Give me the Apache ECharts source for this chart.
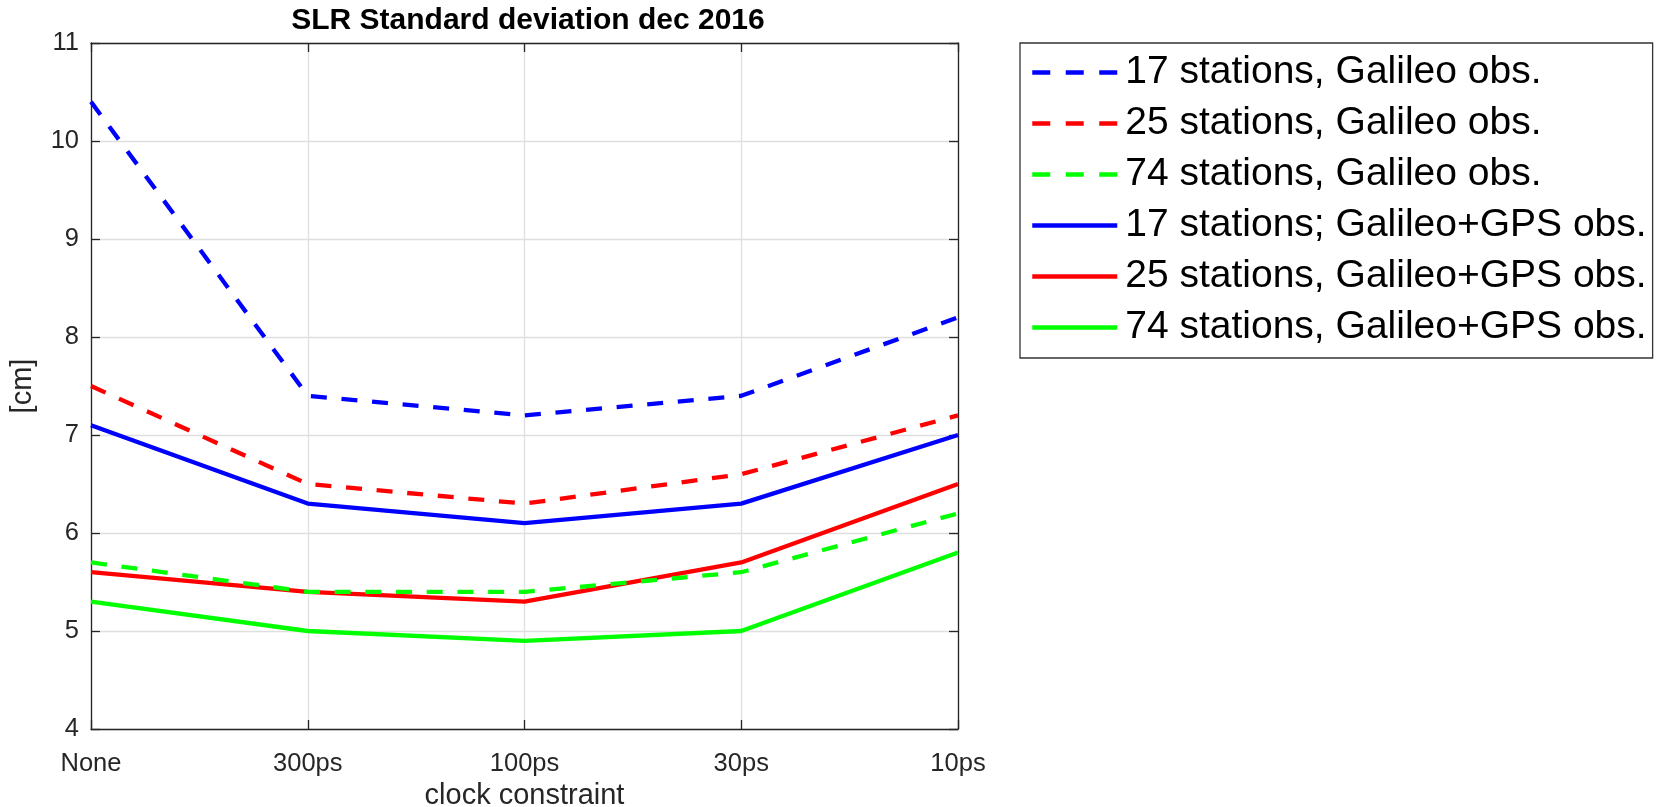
<!DOCTYPE html>
<html>
<head>
<meta charset="utf-8">
<script src="https://cdn.jsdelivr.net/npm/echarts@6/dist/echarts.min.js"></script>
<style>
html,body{margin:0;padding:0;background:#fff;}
#chart{width:1662px;height:807px;}
</style>
</head>
<body>
<div id="chart"></div>
<script>
const categories = ['None', '300ps', '100ps', '30ps', '10ps'];
const gal17 = [10.4, 7.4, 7.2, 7.4, 8.2];
const gal25 = [7.5, 6.5, 6.3, 6.6, 7.2];
const gal74 = [5.7, 5.4, 5.4, 5.6, 6.2];
const gps17 = [7.1, 6.3, 6.1, 6.3, 7.0];
const gps25 = [5.6, 5.4, 5.3, 5.7, 6.5];
const gps74 = [5.3, 5.0, 4.9, 5.0, 5.8];
const seriesNames = [
  '17 stations, Galileo obs.',
  '25 stations, Galileo obs.',
  '74 stations, Galileo obs.',
  '17 stations; Galileo+GPS obs.',
  '25 stations, Galileo+GPS obs.',
  '74 stations, Galileo+GPS obs.'
];
const seriesData = [gal17, gal25, gal74, gps17, gps25, gps74];
const seriesColors = ['#0000ff', '#ff0000', '#00ff00', '#0000ff', '#ff0000', '#00ff00'];
const seriesDashed = [true, true, true, false, false, false];

const FONT = '"Liberation Sans", Arial, Helvetica, sans-serif';
const AX = '#262626';
const DASH = [16, 14.7];

const chart = echarts.init(document.getElementById('chart'));
const series = seriesData.map((d, i) => ({
  name: seriesNames[i],
  type: 'line',
  data: d,
  symbol: 'none',
  showSymbol: false,
  animation: false,
  silent: true,
  lineStyle: {
    color: seriesColors[i],
    width: 4.3,
    type: seriesDashed[i] ? DASH : 'solid',
    cap: 'butt'
  },
  itemStyle: { color: seriesColors[i] },
  z: 10 - i
}));

const legendData = seriesNames.map((n, i) => ({
  name: n,
  itemStyle: { opacity: 0 },
  lineStyle: { color: seriesColors[i], width: 4.5, type: seriesDashed[i] ? [18, 15.5] : 'solid', cap: 'butt' }
}));

const option = {
  backgroundColor: '#ffffff',
  animation: false,
  title: {
    text: 'SLR Standard deviation dec 2016',
    left: 523,
    top: 1,
    textAlign: 'center',
    textStyle: { fontFamily: FONT, fontWeight: 'bold', fontSize: 30, color: '#000' }
  },
  grid: {
    left: 91, top: 43, width: 867, height: 686,
    show: false,
    containLabel: false,
    outerBoundsMode: 'none'
  },
  legend: {
    orient: 'vertical',
    left: 1020,
    top: 43,
    padding: [8, 6, 9, 10],
    itemGap: 8,
    itemWidth: 85,
    itemHeight: 14,
    borderColor: '#333',
    borderWidth: 1.3,
    backgroundColor: '#fff',
    selectedMode: false,
    textStyle: { fontFamily: FONT, fontSize: 39, color: '#000', lineHeight: 43, padding: [0, 0, 0, 3] },
    data: legendData
  },
  xAxis: [{
    type: 'category',
    data: categories,
    boundaryGap: false,
    position: 'bottom',
    name: 'clock constraint',
    nameLocation: 'middle',
    nameGap: 49,
    nameTextStyle: { fontFamily: FONT, fontSize: 29, color: AX },
    axisLine: { show: true, lineStyle: { color: AX, width: 1.3 } },
    axisTick: { show: true, inside: true, length: 9, alignWithLabel: true, lineStyle: { color: AX, width: 1.3 } },
    axisLabel: { fontFamily: FONT, fontSize: 25.5, color: AX, margin: 22, showMinLabel: true, showMaxLabel: true, interval: 0 },
    splitLine: { show: true, lineStyle: { color: '#dfdfdf', width: 1.3 } }
  }, {
    type: 'category',
    data: categories,
    boundaryGap: false,
    position: 'top',
    axisLine: { show: true, lineStyle: { color: AX, width: 1.3 } },
    axisTick: { show: true, inside: true, length: 9, lineStyle: { color: AX, width: 1.3 } },
    axisLabel: { show: false },
    splitLine: { show: false }
  }],
  yAxis: [{
    type: 'value',
    min: 4, max: 11, interval: 1,
    position: 'left',
    name: '[cm]',
    nameLocation: 'middle',
    nameGap: 54,
    nameRotate: 90,
    nameTextStyle: { fontFamily: FONT, fontSize: 29, color: AX },
    axisLine: { show: true, lineStyle: { color: AX, width: 1.3 } },
    axisTick: { show: true, inside: true, length: 9, lineStyle: { color: AX, width: 1.3 } },
    axisLabel: { fontFamily: FONT, fontSize: 25.5, color: AX, margin: 12 },
    splitLine: { show: true, lineStyle: { color: '#dfdfdf', width: 1.3 } }
  }, {
    type: 'value',
    min: 4, max: 11, interval: 1,
    position: 'right',
    axisLine: { show: true, lineStyle: { color: AX, width: 1.3 } },
    axisTick: { show: true, inside: true, length: 9, lineStyle: { color: AX, width: 1.3 } },
    axisLabel: { show: false },
    splitLine: { show: false }
  }],
  series: series
};
chart.setOption(option);
</script>
</body>
</html>
